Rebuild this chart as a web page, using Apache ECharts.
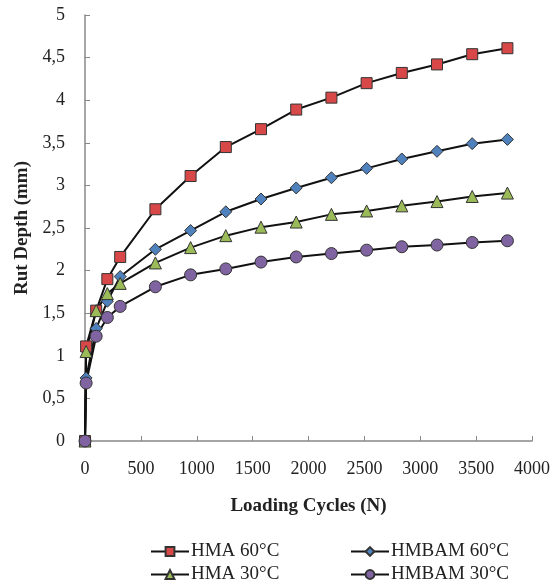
<!DOCTYPE html>
<html>
<head>
<meta charset="utf-8">
<script src="https://cdn.jsdelivr.net/npm/echarts@6/dist/echarts.min.js"></script>
<style>html,body{margin:0;padding:0;background:#fff}#c{width:553px;height:584px}</style>
</head>
<body>
<div id="c"></div>
<script>
const cycles = [0, 10, 100, 200, 315, 630, 945, 1260, 1575, 1890, 2205, 2520, 2835, 3150, 3465, 3780];
const hma60   = [0, 1.11, 1.53, 1.90, 2.16, 2.72, 3.11, 3.45, 3.66, 3.89, 4.03, 4.20, 4.32, 4.42, 4.54, 4.61];
const hmbam60 = [0, 0.74, 1.32, 1.64, 1.93, 2.25, 2.47, 2.69, 2.84, 2.97, 3.09, 3.20, 3.31, 3.40, 3.49, 3.54];
const hma30   = [0, 1.05, 1.53, 1.73, 1.85, 2.09, 2.27, 2.41, 2.51, 2.57, 2.66, 2.70, 2.76, 2.81, 2.87, 2.91];
const hmbam30 = [0, 0.68, 1.23, 1.45, 1.58, 1.81, 1.95, 2.02, 2.10, 2.16, 2.20, 2.24, 2.28, 2.30, 2.33, 2.35];
const seriesNames = ['HMA 60°C', 'HMBAM 60°C', 'HMA 30°C', 'HMBAM 30°C'];
const xTitle = 'Loading Cycles (N)';
const yTitle = 'Rut Depth (mm)';

const font = 'Liberation Serif, Times New Roman, serif';
const pair = (ys) => cycles.map((x, i) => [x, ys[i]]);
const mk = (name, ys, symbol, size, color) => ({
  name, type: 'line', data: pair(ys), symbol, symbolSize: size,
  lineStyle: { color: '#111', width: 2 },
  itemStyle: { color: color, borderColor: '#333', borderWidth: 1 },
  emphasis: { disabled: true }, animation: false
});
const leg = (name, left, top) => ({
  data: [name], left, top, itemWidth: 38, itemHeight: 11, itemGap: 4,
  textStyle: { fontFamily: font, fontSize: 19, color: '#222', padding: [0, 0, 0, -3] }
});

const chart = echarts.init(document.getElementById('c'));
chart.setOption({
  animation: false,
  grid: { left: 85, right: 21, top: 15, bottom: 143 },
  xAxis: {
    type: 'value', min: 0, max: 4000, interval: 500,
    name: xTitle, nameLocation: 'middle', nameGap: 56,
    nameTextStyle: { fontFamily: font, fontSize: 19, fontWeight: 'bold', color: '#222' },
    axisLine: { lineStyle: { color: '#888', width: 1.5 } },
    axisTick: { inside: true, length: 5, lineStyle: { color: '#888' } },
    axisLabel: { fontFamily: font, fontSize: 18, color: '#222', margin: 19,
      formatter: v => String(v) },
    splitLine: { show: false }
  },
  yAxis: {
    type: 'value', min: 0, max: 5, interval: 0.5,
    name: yTitle, nameLocation: 'middle', nameGap: 50,
    nameTextStyle: { fontFamily: font, fontSize: 19, fontWeight: 'bold', color: '#222' },
    axisLine: { show: true, lineStyle: { color: '#888', width: 1.5 } },
    axisTick: { show: true, inside: true, length: 5, lineStyle: { color: '#888' } },
    axisLabel: { fontFamily: font, fontSize: 18, color: '#222', margin: 20,
      formatter: v => String(v).replace('.', ',') },
    splitLine: { show: false }
  },
  legend: [
    leg(seriesNames[0], 145, 537),
    leg(seriesNames[2], 145, 560),
    leg(seriesNames[1], 345, 537),
    leg(seriesNames[3], 345, 560)
  ],
  series: [
    mk(seriesNames[0], hma60, 'rect', 11, '#D94848'),
    mk(seriesNames[1], hmbam60, 'diamond', 12, '#4F81BD'),
    mk(seriesNames[2], hma30, 'triangle', 12, '#9BBB59'),
    mk(seriesNames[3], hmbam30, 'circle', 12, '#8064A2')
  ]
});
</script>
</body>
</html>
